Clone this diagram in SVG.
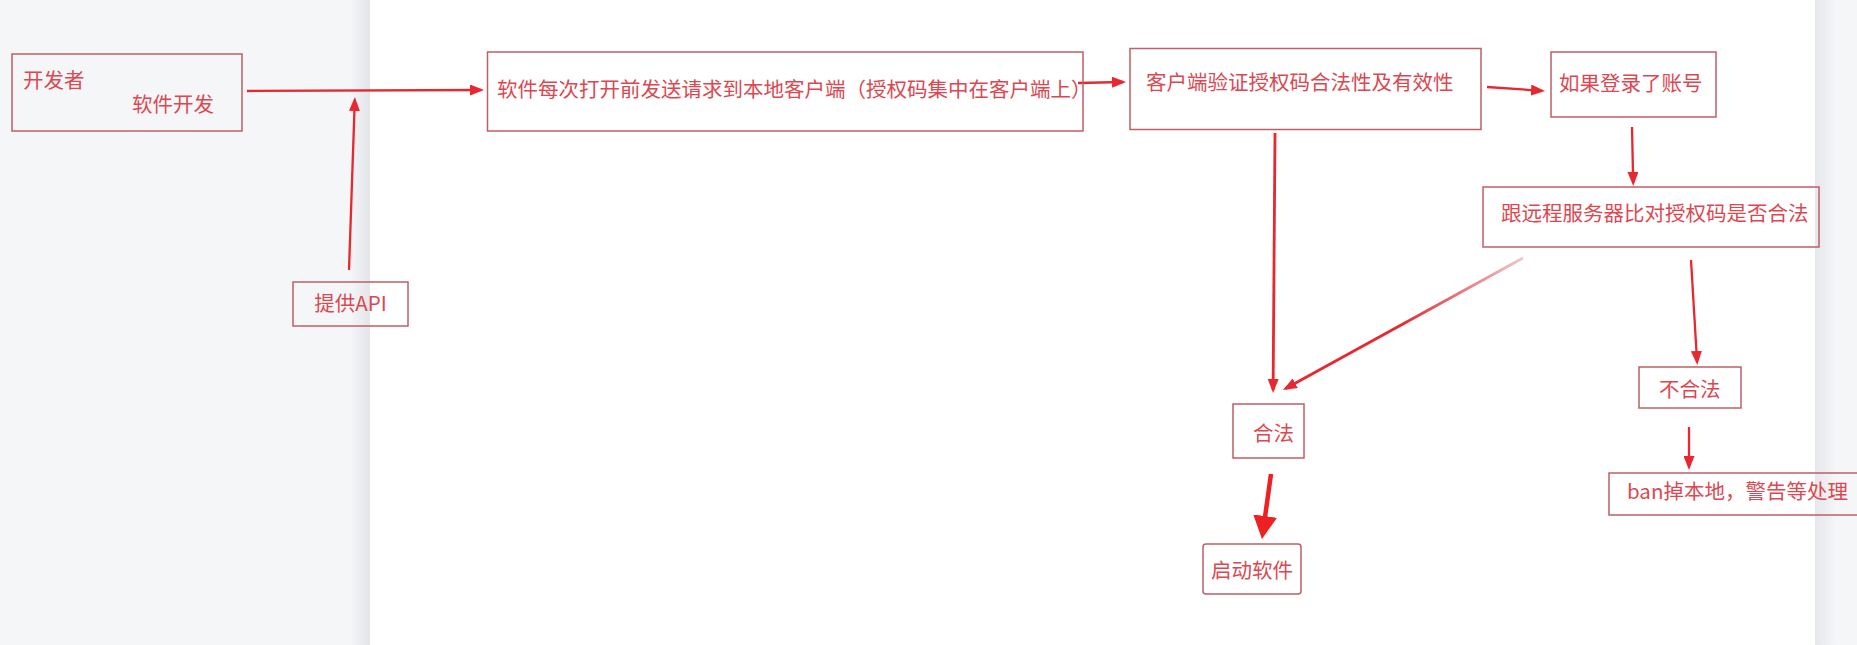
<svg xmlns="http://www.w3.org/2000/svg" width="1857" height="645" viewBox="0 0 1857 645">
  <defs>
    <style>
      .box { fill: none; stroke: #bf5f66; stroke-width: 1.5; }
      .lbl { font-family: "Noto Sans CJK SC", "Noto Sans", sans-serif; font-size: 20.5px; fill: #dc4851; }
      .con { fill: none; stroke: #e8272e; stroke-width: 2.3; stroke-linecap: butt; }
      .thick { stroke-width: 2.8; }
      .big { stroke-width: 4.5; }
    </style>
    <marker id="ah" markerUnits="userSpaceOnUse" viewBox="0 0 14 11" refX="11" refY="5.5" markerWidth="14" markerHeight="11" orient="auto">
      <path d="M0,0 L14,5.5 L0,11 z" fill="#e8272e"/>
    </marker>
    <marker id="ahBig" markerUnits="userSpaceOnUse" viewBox="0 0 23 24" refX="14" refY="12" markerWidth="23" markerHeight="24" orient="auto">
      <path d="M0,0 L23,12 L0,24 z" fill="#ee2024"/>
    </marker>
    <linearGradient id="shadeL" x1="0" y1="0" x2="1" y2="0">
      <stop offset="0" stop-color="#f5f6f8"/>
      <stop offset="1" stop-color="#e4e5e9"/>
    </linearGradient>
    <linearGradient id="shadeR" x1="0" y1="0" x2="1" y2="0">
      <stop offset="0" stop-color="#e6e7eb"/>
      <stop offset="1" stop-color="#f5f6f8"/>
    </linearGradient>
    <linearGradient id="fade" gradientUnits="userSpaceOnUse" x1="1523" y1="258" x2="1400" y2="326">
      <stop offset="0" stop-color="#e9c9cf"/>
      <stop offset="1" stop-color="#e8272e"/>
    </linearGradient>
  </defs>

  <!-- page background -->
  <rect x="0" y="0" width="1857" height="645" fill="#f5f6f8"/>
  <rect x="350" y="0" width="20" height="645" fill="url(#shadeL)"/>
  <rect x="370" y="0" width="1445" height="645" fill="#ffffff"/>
  <rect x="1815" y="0" width="22" height="645" fill="url(#shadeR)"/>

  <g id="connectors">
    <path class="con" d="M247,91 L481,90" marker-end="url(#ah)"/>
    <path class="con" d="M349,270 L354.8,100" marker-end="url(#ah)"/>
    <path class="con" d="M1078,83 L1123,82" marker-end="url(#ah)"/>
    <path class="con" d="M1487,87 L1542,90.8" marker-end="url(#ah)"/>
    <path class="con" d="M1632,127 L1633.2,183" marker-end="url(#ah)"/>
    <path class="con thick" d="M1275,133 L1273.1,390" marker-end="url(#ah)"/>
    <path class="con thick" d="M1523,258 L1285.6,388.6" style="stroke:url(#fade)" marker-end="url(#ah)"/>
    <path class="con" d="M1691,260 L1697.1,362" marker-end="url(#ah)"/>
    <path class="con" d="M1689,427 L1689,467" marker-end="url(#ah)"/>
    <path class="con big" d="M1271,474 L1263.2,530" style="stroke:#ee2024" marker-end="url(#ahBig)"/>
  </g>

  <g id="node-developer">
    <rect class="box" x="12" y="54" width="230" height="77"/>
    <text class="lbl" x="23" y="88">开发者</text>
    <text class="lbl" x="132" y="112">软件开发</text>
  </g>

  <g id="node-api">
    <rect class="box" x="293" y="282" width="115" height="44"/>
    <text class="lbl" x="350.5" y="311" text-anchor="middle">提供API</text>
  </g>

  <g id="node-request">
    <rect class="box" x="487.5" y="52" width="595.5" height="79"/>
    <text class="lbl" x="497" y="97">软件每次打开前发送请求到本地客户端（授权码集中在客户端上）</text>
  </g>

  <g id="node-verify">
    <rect class="box" x="1130" y="48.5" width="351" height="81"/>
    <text class="lbl" x="1146" y="90">客户端验证授权码合法性及有效性</text>
  </g>

  <g id="node-login">
    <rect class="box" x="1551" y="52" width="165" height="65"/>
    <text class="lbl" x="1559" y="91">如果登录了账号</text>
  </g>

  <g id="node-remote">
    <rect class="box" x="1483" y="187" width="336" height="60"/>
    <text class="lbl" x="1501" y="221">跟远程服务器比对授权码是否合法</text>
  </g>

  <g id="node-legal">
    <rect class="box" x="1233" y="404" width="71" height="54"/>
    <text class="lbl" x="1253" y="441">合法</text>
  </g>

  <g id="node-illegal">
    <rect class="box" x="1639" y="367" width="102" height="41"/>
    <text class="lbl" x="1659" y="397">不合法</text>
  </g>

  <g id="node-start">
    <rect class="box" x="1203" y="544" width="98" height="50" rx="3"/>
    <text class="lbl" x="1211" y="578">启动软件</text>
  </g>

  <g id="node-ban">
    <rect class="box" x="1609" y="473" width="262" height="42"/>
    <text class="lbl" x="1627" y="499">ban掉本地，警告等处理</text>
  </g>
</svg>
